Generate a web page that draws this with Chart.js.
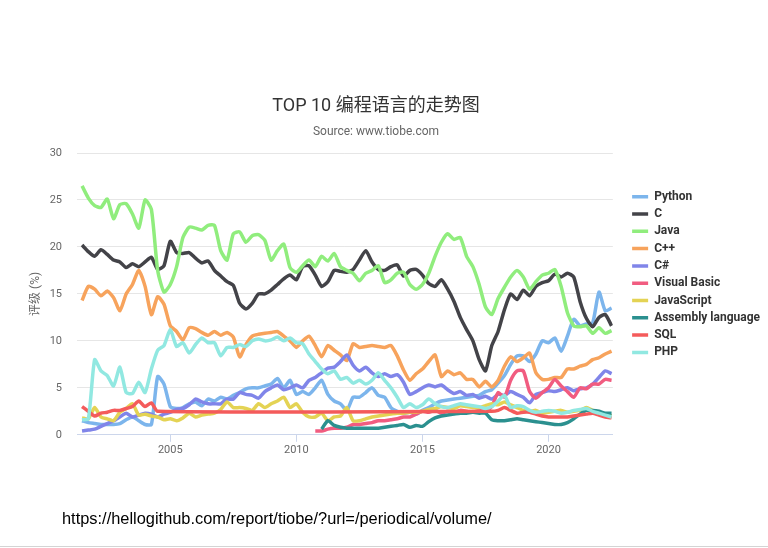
<!DOCTYPE html>
<html lang="zh-CN">
<head>
    <meta charset="UTF-8">
    <title>TOP 10 编程语言的走势图</title>
    <script src="https://cdn.jsdelivr.net/npm/chart.js@4.4.0/dist/chart.umd.min.js"></script>
    <style>
        body {
            margin: 0;
            width: 768px;
            height: 548px;
            overflow: hidden;
            background: #fff;
            position: relative;
        }
        .chart-box {
            position: absolute;
            left: -18px;
            top: 0;
            width: 796px;
            height: 548px;
        }
        .source-url {
            position: absolute;
            left: 62px;
            top: 509px;
            font-family: 'Liberation Sans', Arial, sans-serif;
            font-size: 16.4px;
            color: #000;
        }
        .bottom-rule {
            position: absolute;
            left: 0;
            top: 546px;
            width: 768px;
            height: 1px;
            background: #d4d4d4;
        }
    </style>
</head>
<body>
    <div class="chart-box"><canvas id="tiobeChart" width="796" height="548"></canvas></div>
    <div class="source-url">https://hellogithub.com/report/tiobe/?url=/periodical/volume/</div>
    <div class="bottom-rule"></div>

    <script>
        // quarterly samples, mid 2001 -> mid 2022
        const years = [];
        for (let i = 0; i < 85; i++) years.push(2001.5 + i * 0.25);

        const xTicks = [2005, 2010, 2015, 2020];
        const yTicks = [0, 5, 10, 15, 20, 25, 30];

        const languages = ['Python', 'C', 'Java', 'C++', 'C#', 'Visual Basic', 'JavaScript', 'Assembly language', 'SQL', 'PHP'];
        const colors = ['#7cb5ec', '#434348', '#90ed7d', '#f7a35c', '#8085e9', '#f15c80', '#e4d354', '#2b908f', '#f45b5b', '#91e8e1'];

        const python = [1.5, 1.3,
            1.2, 1.1, 1.1, 1.1,  1.2, 1.6, 1.9, 1.5,  1.1, 1.1, 6.2, 5.4,  3.0, 2.8, 2.9, 3.3,
            3.5, 3.1, 3.8, 3.6,  4.0, 3.8, 4.2, 4.5,  4.9, 5.0, 5.0, 5.2,  5.4, 6.0, 5.0, 5.8,
            4.3, 4.6, 4.3, 5.0,  5.8, 4.3, 3.6, 3.3,  2.6, 4.0, 4.0, 4.5,  5.0, 4.2, 4.0, 2.9,
            2.5, 2.3, 2.4, 2.2,  2.6, 2.9, 3.3, 3.6,  3.7, 3.8, 3.9, 4.0,  4.1, 4.2, 4.6, 4.8,
            5.5, 6.3, 7.5, 8.4,  8.4, 7.8, 8.6, 10.0, 9.8, 10.3, 8.9, 10.5, 12.3, 11.6, 11.8, 11.9,
            15.2, 13.2, 13.5];
        const c = [20.2, 19.5,
            19.0, 19.7, 19.2, 18.6,  18.4, 17.8, 18.2, 17.9,  18.4, 18.9, 17.6, 18.0,  20.6, 19.4, 19.3, 19.4,
            18.8, 18.3, 18.5, 17.5,  16.9, 16.3, 15.9, 14.0,  13.4, 14.0, 15.0, 15.0,  15.4, 16.0, 16.6, 17.0,
            16.5, 17.9, 18.0, 17.0,  15.8, 16.3, 17.5, 17.4,  17.3, 17.6, 18.6, 19.6,  18.4, 17.6, 17.5, 17.9,
            18.1, 16.9, 17.5, 17.6,  17.0, 16.1, 15.8, 16.5,  15.5, 14.2, 12.5, 11.2,  10.0, 8.0, 6.8, 9.5,
            11.0, 13.3, 15.0, 14.4,  15.4, 14.8, 15.8, 16.2,  16.4, 17.1, 16.8, 17.2,  16.8, 14.2, 12.4, 11.5,
            12.5, 12.8, 11.6];
        const java = [26.5, 25.2,
            24.4, 24.2, 25.1, 23.0,  24.5, 24.6, 23.5, 22.0,  25.0, 24.0, 17.5, 15.2,  16.0, 17.9, 21.0, 22.1,
            22.0, 21.8, 22.3, 22.3,  19.6, 18.6, 21.4, 21.6,  20.5, 21.2, 21.3, 20.7,  18.6, 19.6, 20.3, 17.8,
            17.3, 18.0, 18.6, 17.9,  19.0, 18.5, 19.3, 17.9,  17.5, 17.2, 16.4, 17.2,  17.5, 18.0, 16.2, 16.5,
            17.2, 17.3, 16.0, 15.5,  16.0, 17.2, 19.0, 20.5,  21.4, 20.8, 21.0, 19.0,  17.9, 16.0, 13.6, 12.8,
            14.5, 15.7, 16.8, 17.5,  16.8, 15.5, 16.3, 17.0,  17.2, 17.6, 15.8, 13.0,  11.6, 11.5, 11.6, 10.8,
            11.4, 10.8, 11.1];
        const cpp = [14.3, 15.8,
            15.5, 14.8, 15.3, 14.6,  13.2, 15.0, 16.0, 17.5,  15.8, 12.8, 14.7, 13.9,  11.6, 11.0, 10.1, 11.4,
            11.3, 10.9, 10.6, 11.0,  10.6, 10.9, 10.4, 8.3,   9.6, 10.5, 10.7, 10.8,  10.9, 11.0, 10.5, 10.0,
            9.3, 10.0, 10.5, 9.5,    8.3, 9.5, 9.0, 8.5,     7.9, 9.7, 9.3, 9.4,     9.5, 9.4, 9.3, 9.5,
            8.4, 6.9, 5.8, 6.5,      7.0, 7.8, 8.5, 6.2,     6.8, 6.4, 6.6, 5.9,     5.9, 5.1, 5.7, 5.1,
            5.8, 7.3, 8.3, 7.8,      8.2, 8.7, 6.6, 5.9,     5.9, 6.1, 6.1, 7.0,     7.0, 7.3, 7.5, 8.0,
            8.2, 8.6, 8.9];
        const csharp = [0.4, 0.5,
            0.6, 0.9, 1.2, 1.5,  1.9, 2.3, 1.9, 2.1,  2.3, 2.2, 1.9, 2.2,  2.4, 2.7, 2.8, 3.2,
            3.8, 3.5, 3.3, 3.3,  3.3, 3.8, 3.8, 4.5,  4.3, 4.2, 3.9, 4.6,  5.0, 5.3, 4.8, 5.0,
            5.3, 5.0, 5.8, 6.1,  6.6, 7.1, 7.2, 7.8,  8.5, 7.4, 6.8, 7.2,  6.6, 6.2, 6.5, 6.2,
            6.4, 5.6, 4.3, 4.6,  5.0, 5.3, 5.1, 5.3,  4.8, 4.4, 4.6, 4.2,  4.3, 3.9, 4.1, 3.8,
            4.3, 4.2, 4.6, 4.3,  4.0, 3.4, 4.3, 4.5,  4.7, 4.6, 4.8, 5.0,  4.7, 4.9, 5.0, 5.4,
            6.1, 6.8, 6.5];
        const visualBasic = [null, null,
            null, null, null, null,  null, null, null, null,  null, null, null, null,  null, null, null, null,
            null, null, null, null,  null, null, null, null,  null, null, null, null,  null, null, null, null,
            null, null, null, 0.4,   0.4, 0.6, 0.7, 0.7,      0.8, 1.1, 1.1, 1.2,      1.3, 1.5, 1.5, 1.6,
            1.7, 1.9, 1.9, 2.2,      2.5, 2.4, 2.6, 2.3,      2.5, 2.4, 2.6, 2.5,      2.4, 2.6, 2.5, 3.0,
            4.5, 4.0, 5.8, 6.8,      6.8, 4.6, 3.9, 4.5,      5.0, 5.9, 5.2, 4.6,      4.0, 5.0, 4.9, 5.4,
            5.4, 5.9, 5.8];
        const javascript = [1.8, 1.7,
            2.9, 1.9, 1.7, 1.5,  2.4, 2.8, 3.3, 2.1,  2.2, 2.0, 1.9, 1.6,  1.7, 1.5, 1.8, 2.3,
            1.9, 2.1, 2.2, 2.3,  2.7, 3.5, 2.9, 2.9,  2.8, 2.6, 3.3, 2.9,  3.3, 3.6, 4.0, 2.9,
            3.3, 2.4, 1.9, 1.9,  2.3, 1.5, 1.9, 2.0,  2.9, 1.5, 1.5, 1.7,  1.9, 2.0, 2.1, 2.2,
            2.3, 2.3, 2.4, 2.4,  2.5, 2.7, 2.8, 3.0,  2.9, 2.8, 3.1, 3.0,  2.9, 2.9, 3.1, 3.3,
            3.2, 3.5, 3.2, 2.9,  2.6, 2.5, 2.6, 2.3,  2.4, 2.5, 2.6, 2.4,  2.5, 2.6, 2.9, 2.6,
            2.4, 2.2, 2.0];
        const assembly = [null, null,
            null, null, null, null,  null, null, null, null,  null, null, null, null,  null, null, null, null,
            null, null, null, null,  null, null, null, null,  null, null, null, null,  null, null, null, null,
            null, null, null, null,  0.6, 1.5, 1.0, 0.8,      0.7, 0.7, 0.7, 0.7,      0.7, 0.7, 0.8, 0.9,
            1.0, 1.1, 0.8, 1.0,      0.9, 1.4, 1.8, 2.0,      2.1, 2.2, 2.3, 2.3,      2.4, 2.3, 2.3, 1.6,
            1.5, 1.5, 1.6, 1.7,      1.6, 1.5, 1.4, 1.3,      1.2, 1.1, 1.1, 1.3,      1.7, 2.2, 2.6, 2.6,
            2.5, 2.3, 2.3];
        // SQL left the index from 2004 to 2018, the gap is bridged
        const sql = [3.0, 2.5,
            2.0, 2.3, 2.4, 2.6,  2.6, 2.8, 3.0, 3.6,  3.0, 3.4, 2.5, null,  null, null, null, null,
            null, null, null, null,  null, null, null, null,  null, null, null, null,  null, null, null, null,
            null, null, null, null,  null, null, null, null,  null, null, null, null,  null, null, null, null,
            null, null, null, null,  null, null, null, null,  null, null, null, null,  null, null, null, 2.5,
            2.6, 2.9, 2.6, 2.3,  2.4, 2.4, 2.2, 2.0,  1.9, 1.9, 1.9, 1.9,  2.0, 2.1, 2.2, 2.3,
            2.1, 1.9, 1.8];
        const php = [1.6, 1.7,
            8.0, 6.8, 6.3, 5.2,    7.2, 4.5, 4.4, 5.6,    4.5, 7.0, 9.0, 9.5,    11.2, 9.4, 9.8, 8.7,
            9.6, 10.3, 9.8, 9.8,   8.4, 9.3, 9.3, 9.6,    9.4, 10.0, 10.2, 10.0, 10.1, 10.4, 10.0, 10.3,
            9.8, 9.7, 8.6, 7.8,    7.0, 6.5, 6.8, 5.9,    6.1, 5.5, 5.8, 5.4,    5.8, 6.6, 5.8, 5.0,
            4.0, 2.9, 3.3, 2.9,    3.2, 3.8, 3.3, 3.0,    2.9, 3.1, 3.3, 3.2,    3.1, 3.0, 2.8, 3.0,
            3.6, 4.2, 2.9, 3.1,    3.0, 2.6, 2.4, 2.5,    2.6, 2.5, 2.3, 2.4,    2.6, 2.7, 2.8, 2.5,
            2.3, 2.1, 1.9];

        const series = [python, c, java, cpp, csharp, visualBasic, javascript, assembly, sql, php];

        const datasets = series.map((values, i) => ({
            label: languages[i],
            data: values.map((v, j) => ({ x: years[j], y: v })),
            borderColor: colors[i],
            backgroundColor: colors[i],
            borderWidth: 3.5,
            pointRadius: 0,
            pointHoverRadius: 0,
            tension: 0.2,
            spanGaps: true,
            order: series.length - i   // later series on top, like the original
        }));

        const font = 'Roboto, "Noto Sans CJK SC", sans-serif';

        const ctx = document.getElementById('tiobeChart').getContext('2d');
        const tiobeChart = new Chart(ctx, {
            type: 'line',
            data: { datasets: datasets },
            options: {
                responsive: false,
                animation: false,
                devicePixelRatio: 1,
                layout: { padding: { left: 0, right: 8, top: 0, bottom: 89 } },
                plugins: {
                    title: {
                        display: true,
                        text: 'TOP 10 编程语言的走势图',
                        color: '#333333',
                        font: { family: font, size: 18, weight: 'normal' },
                        padding: { top: 96, bottom: 3 }
                    },
                    subtitle: {
                        display: true,
                        text: 'Source: www.tiobe.com',
                        color: '#666666',
                        font: { family: font, size: 12 },
                        padding: { top: 4, bottom: 14 }
                    },
                    legend: {
                        position: 'right',
                        align: 'start',
                        fullSize: false,
                        maxWidth: 200,
                        title: { display: true, text: '', padding: 9 },
                        labels: {
                            usePointStyle: true,
                            pointStyle: 'line',
                            pointStyleWidth: 16,
                            padding: 5.3,
                            color: '#333333',
                            font: { family: font, size: 12, weight: 'bold' },
                            sort: (a, b) => a.datasetIndex - b.datasetIndex
                        }
                    },
                    tooltip: { enabled: false }
                },
                scales: {
                    x: {
                        type: 'linear',
                        min: 2001.3,
                        max: 2022.55,
                        afterBuildTicks: (axis) => { axis.ticks = xTicks.map(v => ({ value: v })); },
                        ticks: {
                            callback: (v) => String(v),
                            color: '#666666',
                            font: { family: font, size: 11 },
                            padding: 2,
                            maxRotation: 0
                        },
                        grid: { drawOnChartArea: false, drawTicks: true, tickLength: 7, color: '#ccd6eb' },
                        border: { color: '#ccd6eb' }
                    },
                    y: {
                        min: 0,
                        max: 30,
                        afterBuildTicks: (axis) => { axis.ticks = yTicks.map(v => ({ value: v })); },
                        afterFit: (scale) => { scale.width = 95; },
                        ticks: {
                            color: '#666666',
                            font: { family: font, size: 11 },
                            padding: 15
                        },
                        grid: { color: '#e6e6e6', drawTicks: false },
                        border: { display: false },
                        title: {
                            display: true,
                            text: '评级 (%)',
                            color: '#666666',
                            font: { family: font, size: 12 },
                            padding: { top: 47, bottom: 0 }
                        }
                    },
                    // empty strip between plot and legend
                    gap: {
                        position: 'right',
                        display: true,
                        grid: { display: false },
                        ticks: { display: false },
                        border: { display: false },
                        afterFit: (scale) => { scale.width = 14; }
                    }
                }
            }
        });
    </script>
</body>
</html>
